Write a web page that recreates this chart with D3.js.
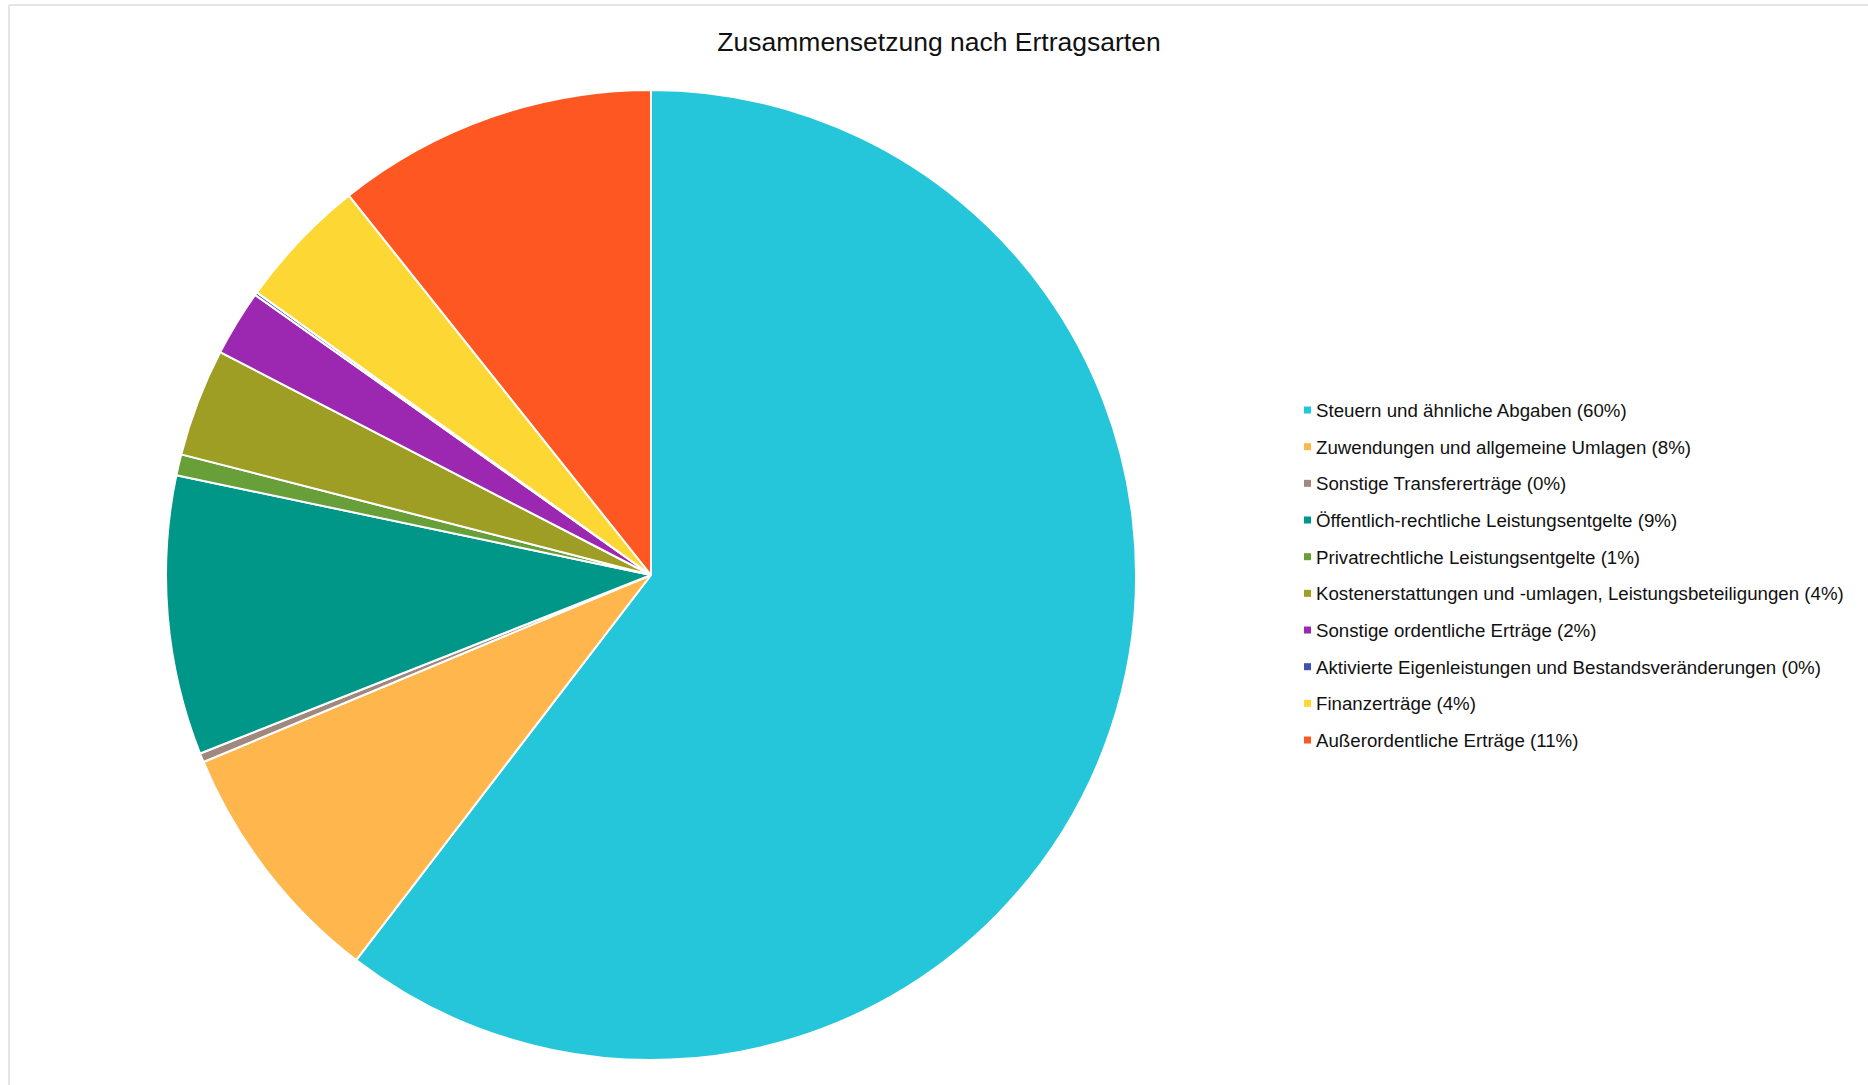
<!DOCTYPE html>
<html lang="de">
<head>
<meta charset="utf-8">
<title>Zusammensetzung nach Ertragsarten</title>
<script src="https://cdn.jsdelivr.net/npm/d3@7"></script>
<style>
  html, body { margin: 0; padding: 0; background: #ffffff; }
  svg { display: block; font-family: "Liberation Sans", Arial, sans-serif; }
</style>
</head>
<body>
<svg id="chart" width="1868" height="1085"></svg>
<script>
// Income categories (share of total income, in percent)
const categories = [
  "Steuern und ähnliche Abgaben",
  "Zuwendungen und allgemeine Umlagen",
  "Sonstige Transfererträge",
  "Öffentlich-rechtliche Leistungsentgelte",
  "Privatrechtliche Leistungsentgelte",
  "Kostenerstattungen und -umlagen, Leistungsbeteiligungen",
  "Sonstige ordentliche Erträge",
  "Aktivierte Eigenleistungen und Bestandsveränderungen",
  "Finanzerträge",
  "Außerordentliche Erträge"
];
const values = [60.4, 8.3, 0.3, 9.3, 0.7, 3.6, 2.2, 0.1, 4.4, 10.7];
const colors = [
  "#26C6DA", "#FFB74D", "#A1887F", "#009688", "#689F38",
  "#9E9D24", "#9C27B0", "#3F51B5", "#FDD835", "#FF5722"
];
const title = "Zusammensetzung nach Ertragsarten";

const W = 1868, H = 1085;
const svg = d3.select("#chart");

// light frame along the top and left edge
svg.append("line").attr("x1", 9).attr("y1", 5).attr("x2", W).attr("y2", 5)
  .attr("stroke", "#dcdcdc").attr("stroke-width", 1.5);
svg.append("line").attr("x1", 9).attr("y1", 5).attr("x2", 9).attr("y2", H)
  .attr("stroke", "#dcdcdc").attr("stroke-width", 1.5);

// title
svg.append("text")
  .attr("x", 939).attr("y", 51)
  .attr("text-anchor", "middle")
  .attr("font-size", 26.5)
  .attr("fill", "#111")
  .text(title);

const data = categories.map((name, i) => ({ name, value: values[i], color: colors[i] }));
const total = d3.sum(values);

// pie: clockwise from 12 o'clock, in data order
const cx = 651, cy = 575, radius = 485;
const pie = d3.pie().value(d => d.value).sort(null).startAngle(0).endAngle(2 * Math.PI);
const arc = d3.arc().innerRadius(0).outerRadius(radius);

const g = svg.append("g").attr("transform", `translate(${cx},${cy})`);
g.selectAll("path")
  .data(pie(data))
  .join("path")
  .attr("d", arc)
  .attr("fill", d => d.data.color)
  .attr("stroke", "#ffffff")
  .attr("stroke-width", 2)
  .attr("stroke-linejoin", "round");

// legend
const legendX = 1304, legendY0 = 410, rowH = 36.67, box = 7;
const legend = svg.append("g");
const rows = legend.selectAll("g.row")
  .data(data)
  .join("g")
  .attr("class", "row")
  .attr("transform", (d, i) => `translate(${legendX},${legendY0 + i * rowH})`);

rows.append("rect")
  .attr("x", 0).attr("y", -box / 2)
  .attr("width", box).attr("height", box)
  .attr("fill", d => d.color);

rows.append("text")
  .attr("x", 12).attr("y", 7)
  .attr("font-size", 18.7)
  .attr("fill", "#111")
  .text(d => `${d.name} (${Math.round(d.value / total * 100)}%)`);
</script>
</body>
</html>
